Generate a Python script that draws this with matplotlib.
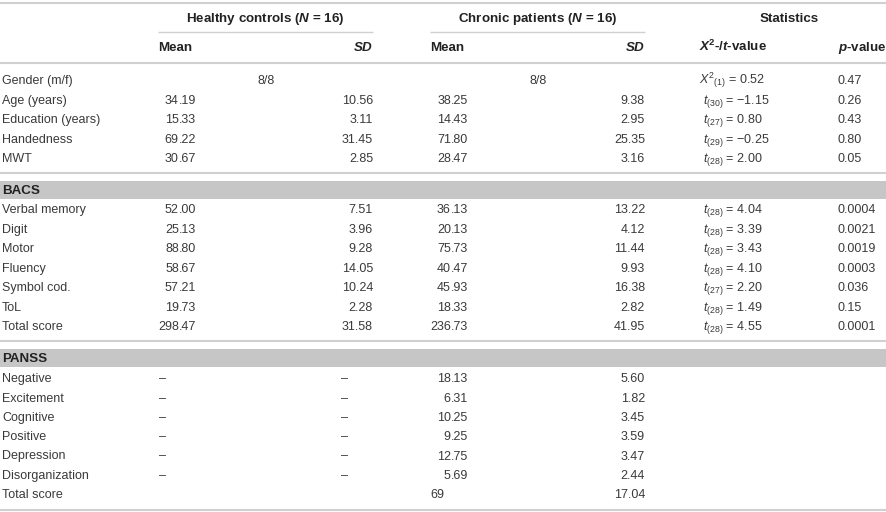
import matplotlib
matplotlib.use("Agg")
import matplotlib.pyplot as plt
from matplotlib.patches import Rectangle

plt.rcParams['font.family'] = ['Liberation Sans', 'DejaVu Sans']
plt.rcParams['mathtext.fontset'] = 'custom'
plt.rcParams['mathtext.rm'] = 'Liberation Sans'
plt.rcParams['mathtext.it'] = 'Liberation Sans:italic'
plt.rcParams['mathtext.bf'] = 'Liberation Sans:bold'
try:
    plt.rcParams['mathtext.bfit'] = 'Liberation Sans:bold:italic'
    BFIT = True
except Exception:
    BFIT = False

# ---------------- data ----------------
group_headers = ["Healthy controls", "Chronic patients", "Statistics"]
group_n = ["16", "16"]

demo_labels = ["Gender (m/f)", "Age (years)", "Education (years)", "Handedness", "MWT"]
gender_hc = "8/8"
gender_cp = "8/8"
demo_hc_mean = ["", "34.19", "15.33", "69.22", "30.67"]
demo_hc_sd = ["", "10.56", "3.11", "31.45", "2.85"]
demo_cp_mean = ["", "38.25", "14.43", "71.80", "28.47"]
demo_cp_sd = ["", "9.38", "2.95", "25.35", "3.16"]
demo_df = ["1", "30", "27", "29", "28"]
demo_stat = ["0.52", "\u22121.15", "0.80", "\u22120.25", "2.00"]
demo_p = ["0.47", "0.26", "0.43", "0.80", "0.05"]

bacs_labels = ["Verbal memory", "Digit", "Motor", "Fluency", "Symbol cod.", "ToL", "Total score"]
bacs_hc_mean = ["52.00", "25.13", "88.80", "58.67", "57.21", "19.73", "298.47"]
bacs_hc_sd = ["7.51", "3.96", "9.28", "14.05", "10.24", "2.28", "31.58"]
bacs_cp_mean = ["36.13", "20.13", "75.73", "40.47", "45.93", "18.33", "236.73"]
bacs_cp_sd = ["13.22", "4.12", "11.44", "9.93", "16.38", "2.82", "41.95"]
bacs_df = ["28", "28", "28", "28", "27", "28", "28"]
bacs_t = ["4.04", "3.39", "3.43", "4.10", "2.20", "1.49", "4.55"]
bacs_p = ["0.0004", "0.0021", "0.0019", "0.0003", "0.036", "0.15", "0.0001"]

panss_labels = ["Negative", "Excitement", "Cognitive", "Positive", "Depression",
                "Disorganization", "Total score"]
panss_hc_mean = ["\u2013", "\u2013", "\u2013", "\u2013", "\u2013", "\u2013", ""]
panss_hc_sd = ["\u2013", "\u2013", "\u2013", "\u2013", "\u2013", "\u2013", ""]
panss_cp_mean = ["18.13", "6.31", "10.25", "9.25", "12.75", "5.69", "69"]
panss_cp_sd = ["5.60", "1.82", "3.45", "3.59", "3.47", "2.44", "17.04"]

# ---------------- layout ----------------
W, H = 887, 512
fig = plt.figure(figsize=(W / 100, H / 100), dpi=100)
ax = fig.add_axes([0, 0, 1, 1])
ax.set_xlim(0, W)
ax.set_ylim(H, 0)
ax.axis('off')

FS = 9.0
FSH = 9.6
TXT = '#3a3a3a'
HDR = '#222222'
LINE = '#d0d0d0'
BAND = '#c6c6c6'
BASE = 4.3  # baseline offset from row centre

X_LABEL = 2
X_HC_M, X_HC_SD = 158, 373
X_CP_M, X_CP_SD = 430, 645
X_ST, X_P = 699, 838
X_HC_DASH_SD = 341
DIGIT = 0.556 * FS * 100 / 72  # width of one digit in px
X_HC_DEC = X_HC_M + 3 * DIGIT
X_CP_DEC = X_CP_M + 3 * DIGIT


def t(x, y, s, ha='left', bold=False, color=TXT, fs=FS):
    ax.text(x, y + BASE, s, ha=ha, va='baseline', fontsize=fs,
            fontweight='bold' if bold else 'normal', color=color)


def dec(xstart, xdec, y, s):
    """decimal aligned number; integers start at the column start"""
    if '.' in s:
        a, b = s.split('.')
        t(xdec, y, a, ha='right')
        t(xdec, y, '.' + b, ha='left')
    else:
        t(xstart, y, s)


def hline(y, x0=0, x1=W, lw=1.5):
    ax.plot([x0, x1], [y, y], color=LINE, lw=lw, solid_capstyle='butt')


def bi(s):
    return r'$\mathbfit{%s}$' % s if BFIT else r'$\mathit{%s}$' % s


# rules
hline(2.5)
hline(32, X_HC_M, X_HC_SD, lw=1.0)
hline(32, X_CP_M, X_CP_SD, lw=1.0)
hline(63)
hline(173)
hline(341)
hline(510)

# group headers
t((X_HC_M + X_HC_SD) / 2, 17.5, group_headers[0] + ' (' + bi('N') + ' = ' + group_n[0] + ')',
  ha='center', bold=True, color=HDR, fs=FSH)
t((X_CP_M + X_CP_SD) / 2, 17.5, group_headers[1] + ' (' + bi('N') + ' = ' + group_n[1] + ')',
  ha='center', bold=True, color=HDR, fs=FSH)
t((X_ST + W) / 2 - 4, 17.5, group_headers[2], ha='center', bold=True, color=HDR, fs=FSH)

# sub headers
t(X_HC_M, 47, 'Mean', bold=True, color=HDR, fs=FSH)
t(X_HC_SD, 47, bi('SD'), ha='right', bold=True, color=HDR, fs=FSH)
t(X_CP_M, 47, 'Mean', bold=True, color=HDR, fs=FSH)
t(X_CP_SD, 47, bi('SD'), ha='right', bold=True, color=HDR, fs=FSH)
if BFIT:
    t(X_ST, 47, r'$\mathbfit{X}^{\mathbf{2}}$-/' + bi('t') + '-value', bold=True, color=HDR, fs=FSH)
else:
    t(X_ST, 47, r'$X^{2}$-/' + bi('t') + '-value', bold=True, color=HDR, fs=FSH)
t(X_P, 47, bi('p') + '-value', bold=True, color=HDR, fs=FSH)

# demographics
demo_y0, demo_step = 80, 19.5
for i, lab in enumerate(demo_labels):
    y = demo_y0 + i * demo_step
    t(X_LABEL, y, lab)
    if i == 0:
        t((X_HC_M + X_HC_SD) / 2 + 1, y, gender_hc, ha='center')
        t((X_CP_M + X_CP_SD) / 2 + 1, y, gender_cp, ha='center')
        t(X_ST, y, r'$X^{2}{}_{(%s)}$ = %s' % (demo_df[i], demo_stat[i]))
    else:
        dec(X_HC_M, X_HC_DEC, y, demo_hc_mean[i])
        t(X_HC_SD, y, demo_hc_sd[i], ha='right')
        dec(X_CP_M, X_CP_DEC, y, demo_cp_mean[i])
        t(X_CP_SD, y, demo_cp_sd[i], ha='right')
        t(X_ST + 4, y, r'$t_{(%s)}$ = %s' % (demo_df[i], demo_stat[i]))
    t(X_P, y, demo_p[i])

# BACS
ax.add_patch(Rectangle((0, 181), W, 18, color=BAND, lw=0))
t(X_LABEL, 190, 'BACS', bold=True, color=HDR, fs=FSH)
bacs_y0, bacs_step = 209, 19.5
for i, lab in enumerate(bacs_labels):
    y = bacs_y0 + i * bacs_step
    t(X_LABEL, y, lab)
    dec(X_HC_M, X_HC_DEC, y, bacs_hc_mean[i])
    t(X_HC_SD, y, bacs_hc_sd[i], ha='right')
    dec(X_CP_M, X_CP_DEC, y, bacs_cp_mean[i])
    t(X_CP_SD, y, bacs_cp_sd[i], ha='right')
    t(X_ST + 4, y, r'$t_{(%s)}$ = %s' % (bacs_df[i], bacs_t[i]))
    t(X_P, y, bacs_p[i])

# PANSS
ax.add_patch(Rectangle((0, 349), W, 18, color=BAND, lw=0))
t(X_LABEL, 358, 'PANSS', bold=True, color=HDR, fs=FSH)
panss_y0, panss_step = 378, 19.3
for i, lab in enumerate(panss_labels):
    y = panss_y0 + i * panss_step
    t(X_LABEL, y, lab)
    t(X_HC_M + 1, y, panss_hc_mean[i])
    t(X_HC_DASH_SD, y, panss_hc_sd[i])
    dec(X_CP_M, X_CP_DEC, y, panss_cp_mean[i])
    t(X_CP_SD, y, panss_cp_sd[i], ha='right')

fig.savefig('out.png', dpi=100)
